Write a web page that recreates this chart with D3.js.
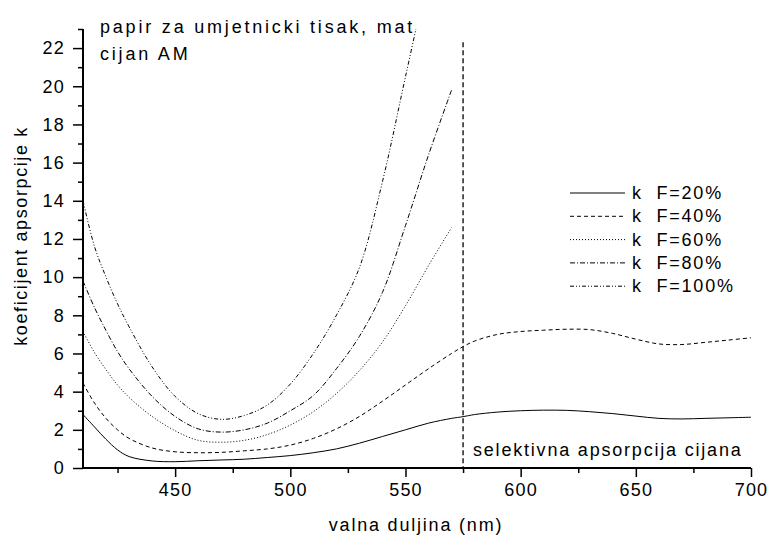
<!DOCTYPE html>
<html>
<head>
<meta charset="utf-8">
<title>koeficijent apsorpcije</title>
<style>
  body { margin: 0; background: #fff; }
  text { font-family: Arial, "Liberation Sans", sans-serif; fill: #000; }
</style>
</head>
<body>
<script src="https://cdn.jsdelivr.net/npm/d3@7"></script>
<script>
var width = 767, height = 535;
var margin = {left: 83, right: 16, top: 29, bottom: 67};

// wavelengths (nm)
var wavelengths = [410,415,420,425,430,440,450,460,470,480,490,500,510,520,530,540,550,560,570,
                   575,580,590,600,610,620,630,640,650,660,670,680,690,700];
// k values
var kF20  = [2.8,2.15,1.5,0.95,0.6,0.37,0.33,0.38,0.42,0.46,0.55,0.65,0.8,1.0,1.3,1.65,2.0,2.35,2.6,
             2.69,2.8,2.93,3.0,3.03,3.02,2.95,2.85,2.72,2.6,2.57,2.6,2.63,2.66];
var kF40  = [4.45,3.4,2.6,2.0,1.55,1.05,0.85,0.8,0.82,0.9,1.0,1.2,1.55,2.05,2.7,3.5,4.35,5.2,6.0,
             6.36,6.65,7.0,7.15,7.22,7.27,7.25,7.05,6.75,6.5,6.47,6.58,6.7,6.82];
var kF60  = [7.15,6.05,5.15,4.35,3.7,2.7,1.95,1.45,1.35,1.45,1.75,2.25,2.95,3.9,5.1,6.6,8.5,10.6,12.6];
var kF80  = [9.8,8.4,7.2,6.1,5.2,3.75,2.7,2.05,1.88,2.0,2.35,3.0,3.8,5.2,6.9,9.2,12.7,16.4,19.8];
var kF100 = [14.0,11.6,10.0,8.6,7.4,5.3,3.75,2.85,2.55,2.75,3.3,4.4,6.0,8.0,10.5,15.0,20.5,26.0];

var seriesNames = ["k  F=20%", "k  F=40%", "k  F=60%", "k  F=80%", "k  F=100%"];
var seriesValues = [kF20, kF40, kF60, kF80, kF100];
var dashes = ["none", "4,3", "1,2", "5,2,1,2", "4,2,1,2,1,2"];

var xTicks = [450, 500, 550, 600, 650, 700];
var xMinor = [425, 475, 525, 575, 625, 675];
var yTicks = d3.range(0, 23, 2);
var yMinor = d3.range(1, 24, 2);
var cutoff = 575;

var svg = d3.select("body").append("svg")
    .attr("width", width)
    .attr("height", height);

var x = d3.scaleLinear().domain([410, 700]).range([margin.left, width - margin.right]);
var y = d3.scaleLinear().domain([0, 23]).range([height - margin.bottom, margin.top]);

svg.append("clipPath").attr("id", "plot")
  .append("rect")
    .attr("x", x(410)).attr("y", y(23))
    .attr("width", x(700) - x(410)).attr("height", y(0) - y(23));

// curves
var line = d3.line()
    .x(function(d){ return x(d[0]); })
    .y(function(d){ return y(d[1]); })
    .curve(d3.curveCatmullRom.alpha(0.5));

var curves = svg.append("g").attr("clip-path", "url(#plot)");
seriesValues.forEach(function(vals, i){
  var pts = vals.map(function(v, j){ return [wavelengths[j], v]; });
  curves.append("path")
    .attr("d", line(pts))
    .attr("fill", "none")
    .attr("stroke", "#000")
    .attr("stroke-width", 1)
    .attr("stroke-dasharray", dashes[i]);
});

// cut-off line
svg.append("line")
    .attr("x1", x(cutoff)).attr("x2", x(cutoff))
    .attr("y1", y(22.3)).attr("y2", y(0))
    .attr("stroke", "#222")
    .attr("stroke-width", 1.5)
    .attr("stroke-dasharray", "5,3");

// axes
var xAxis = svg.append("g")
    .attr("transform", "translate(0," + y(0) + ")")
    .call(d3.axisBottom(x).tickValues(xTicks).tickSize(9).tickPadding(6).tickFormat(d3.format("d")));
svg.append("g")
    .attr("transform", "translate(0," + y(0) + ")")
    .call(d3.axisBottom(x).tickValues(xMinor).tickSize(5).tickFormat(""))
    .select(".domain").remove();

var yAxis = svg.append("g")
    .attr("transform", "translate(" + x(410) + ",0)")
    .call(d3.axisLeft(y).tickValues(yTicks).tickSize(10).tickPadding(8));
svg.append("g")
    .attr("transform", "translate(" + x(410) + ",0)")
    .call(d3.axisLeft(y).tickValues(yMinor).tickSize(5).tickFormat(""))
    .select(".domain").remove();

svg.selectAll(".domain").attr("stroke-width", 2);
xAxis.select(".domain").attr("d", "M" + x(410) + ",0H" + x(700));
yAxis.select(".domain").attr("d", "M0," + y(0) + "V" + y(23));
svg.selectAll(".tick line").attr("stroke-width", 1.5);
svg.selectAll(".tick text")
    .style("font-size", "18px")
    .style("letter-spacing", "1.2px")
    .style("font-family", "Arial, 'Liberation Sans', sans-serif");

// titles
svg.append("text")
    .attr("x", 416).attr("y", 531)
    .attr("text-anchor", "middle")
    .style("font-size", "18px").style("letter-spacing", "1.8px")
    .text("valna duljina (nm)");

svg.append("text")
    .attr("transform", "translate(27,236)rotate(-90)")
    .attr("text-anchor", "middle")
    .style("font-size", "18px").style("letter-spacing", "1.6px")
    .text("koeficijent apsorpcije k");

svg.append("text")
    .attr("x", 100).attr("y", 33)
    .style("font-size", "18px").style("letter-spacing", "2.8px")
    .text("papir za umjetnicki tisak, mat");
svg.append("text")
    .attr("x", 100).attr("y", 60)
    .style("font-size", "18px").style("letter-spacing", "2.8px")
    .text("cijan AM");

svg.append("text")
    .attr("x", 473).attr("y", 456)
    .style("font-size", "18px").style("letter-spacing", "1.8px")
    .text("selektivna apsorpcija cijana");

// legend
var legend = svg.append("g").attr("transform", "translate(570,193)");
seriesNames.forEach(function(name, i){
  var row = legend.append("g").attr("transform", "translate(0," + (i * 23.3) + ")");
  row.append("line")
    .attr("x1", 0).attr("x2", 55)
    .attr("stroke", "#000").attr("stroke-width", 1)
    .attr("stroke-dasharray", dashes[i]);
  row.append("text")
    .attr("x", 62).attr("y", 6)
    .attr("xml:space", "preserve")
    .style("white-space", "pre")
    .style("font-size", "18px").style("letter-spacing", "1.8px")
    .text(name);
});
</script>
</body>
</html>
